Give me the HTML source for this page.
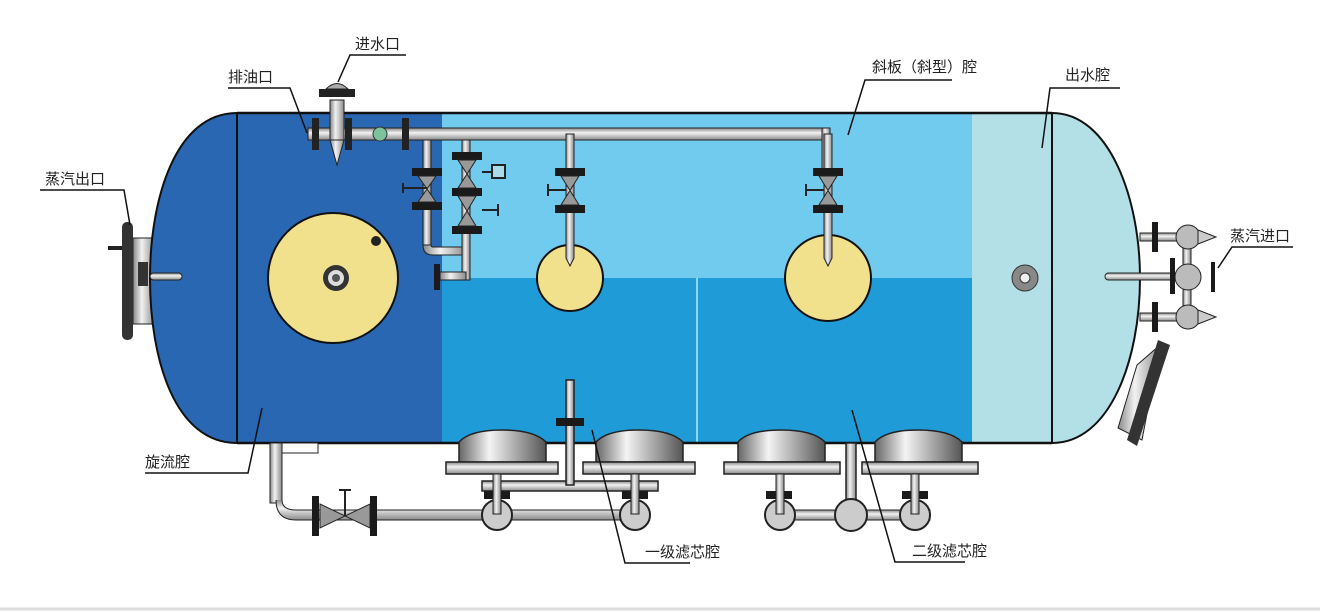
<!DOCTYPE html>
<html><head><meta charset="utf-8"><style>
html,body{margin:0;padding:0;background:#fff;}
svg{display:block;}
text{font-family:"Liberation Sans","Noto Sans CJK SC",sans-serif;font-size:15px;fill:#222;}
</style></head><body>
<svg width="1320" height="612" viewBox="0 0 1320 612" xmlns="http://www.w3.org/2000/svg">
<defs>
<linearGradient id="pg" x1="0" y1="0" x2="0" y2="1"><stop offset="0" stop-color="#888"/><stop offset="0.4" stop-color="#f2f2f2"/><stop offset="1" stop-color="#8a8a8a"/></linearGradient>
<linearGradient id="pv" x1="0" y1="0" x2="1" y2="0"><stop offset="0" stop-color="#888"/><stop offset="0.4" stop-color="#f2f2f2"/><stop offset="1" stop-color="#8a8a8a"/></linearGradient>
<linearGradient id="dome" x1="0" y1="0" x2="1" y2="0"><stop offset="0" stop-color="#666"/><stop offset="0.35" stop-color="#f4f4f4"/><stop offset="1" stop-color="#555"/></linearGradient>
</defs>
<rect width="1320" height="612" fill="#fff"/>
<line x1="0" y1="609" x2="1320" y2="609" stroke="#ddd" stroke-width="3"/>

<rect x="133" y="238" width="22" height="86" fill="url(#pv)" stroke="#222"/>
<rect x="122" y="222" width="11" height="118" rx="5" fill="#333"/>
<rect x="108" y="246" width="14" height="4" fill="#222"/>
<rect x="138" y="262" width="10" height="24" fill="#333"/>

<path d="M237,113 C175,113 150,200 150,278 C150,360 175,443 237,443 Z" fill="#2a67b2" stroke="#111" stroke-width="2"/>
<rect x="237" y="113" width="206" height="330" fill="#2a67b2"/>
<rect x="442" y="113" width="531" height="165" fill="#70cbee"/>
<rect x="442" y="278" width="531" height="165" fill="#1f9bd8"/>
<line x1="697" y1="278" x2="697" y2="443" stroke="#bfe6f6" stroke-width="1.5"/>
<rect x="972" y="113" width="80" height="330" fill="#b2e0e6"/>
<path d="M1052,113 C1110,113 1140,200 1140,278 C1140,360 1110,443 1052,443 Z" fill="#b2e0e6" stroke="#111" stroke-width="2"/>
<line x1="237" y1="113" x2="1052" y2="113" stroke="#111" stroke-width="2.5"/>
<line x1="237" y1="443" x2="1052" y2="443" stroke="#111" stroke-width="2.5"/>
<line x1="237" y1="113" x2="237" y2="443" stroke="#111" stroke-width="2"/>
<line x1="1052" y1="113" x2="1052" y2="443" stroke="#111" stroke-width="2"/>
<rect x="150" y="273" width="32" height="7" rx="3.5" fill="url(#pg)" stroke="#222"/>
<rect x="1105" y="273" width="80" height="7" rx="3.5" fill="url(#pg)" stroke="#222"/>

<circle cx="333" cy="278" r="65" fill="#f1e08c" stroke="#111" stroke-width="2"/>
<circle cx="336" cy="278" r="13" fill="#333"/><circle cx="336" cy="278" r="8" fill="#ddd"/><circle cx="336" cy="278" r="4" fill="#555"/>
<circle cx="376" cy="241" r="5" fill="#222"/>
<circle cx="570" cy="278" r="33" fill="#f1e08c" stroke="#111" stroke-width="2"/>
<circle cx="828" cy="278" r="43" fill="#f1e08c" stroke="#111" stroke-width="2"/>
<circle cx="1025" cy="278" r="13" fill="#888" stroke="#333"/><circle cx="1025" cy="278" r="5" fill="#eee" stroke="#333"/>

<rect x="308" y="128" width="520" height="12" fill="url(#pg)" stroke="#222"/>
<rect x="822" y="128" width="8" height="48" fill="url(#pv)" stroke="#222"/>
<rect x="312" y="118" width="7" height="32" fill="#222"/>
<rect x="345" y="118" width="7" height="32" fill="#222"/>
<rect x="402" y="118" width="7" height="32" fill="#222"/>
<circle cx="380" cy="134" r="7" fill="#7cc29a" stroke="#333"/>
<rect x="330" y="100" width="14" height="40" fill="url(#pv)" stroke="#222"/>
<path d="M330,140 L344,140 L337,165 Z" fill="url(#pv)" stroke="#222"/>
<rect x="319" y="89" width="36" height="8" fill="#222"/>
<path d="M326,89 Q337,78 348,89 Z" fill="#aaa" stroke="#222"/>

<g fill="url(#pv)" stroke="#222">
<rect x="423" y="140" width="8" height="105"/>
<path d="M423,245 Q423,255 433,255 L466,255 L466,247 L433,247 Q431,247 431,245 Z"/>
<rect x="462" y="140" width="8" height="140"/>
<rect x="440" y="272" width="26" height="8"/>
</g>
<g fill="#1a1a1a">
<rect x="412" y="168" width="30" height="8"/><rect x="412" y="202" width="30" height="8"/>
<rect x="452" y="152" width="30" height="8"/><rect x="452" y="188" width="30" height="8"/><rect x="452" y="226" width="30" height="8"/>
<rect x="434" y="264" width="6" height="26"/>
</g>
<g fill="#999" stroke="#222">
<path d="M418,176 L436,176 L418,202 L436,202 Z"/>
<path d="M458,160 L476,160 L458,188 L476,188 Z"/>
<path d="M458,196 L476,196 L458,226 L476,226 Z"/>
</g>
<path d="M403,188 L427,188 M403,183 L403,193 M482,172 L492,172 M482,210 L498,210 M498,204 L498,216" stroke="#222" stroke-width="2" fill="none"/>
<rect x="492" y="165" width="13" height="13" fill="#a9dbe9" stroke="#222" stroke-width="2"/>

<g fill="url(#pv)" stroke="#222">
<path d="M566,134 L574,134 L574,258 L570,266 L566,258 Z"/>
<path d="M824,134 L832,134 L832,258 L828,266 L824,258 Z"/>
</g>
<g fill="#1a1a1a">
<rect x="555" y="168" width="30" height="8"/><rect x="555" y="205" width="30" height="8"/>
<rect x="813" y="168" width="30" height="8"/><rect x="813" y="205" width="30" height="8"/>
</g>
<g fill="#999" stroke="#222">
<path d="M561,176 L579,176 L561,205 L579,205 Z"/>
<path d="M819,176 L837,176 L819,205 L837,205 Z"/>
</g>
<path d="M548,190 L566,190 M548,184 L548,196 M806,190 L824,190 M806,184 L806,196" stroke="#222" stroke-width="2"/>

<g stroke="#222">
<rect x="1140" y="233" width="40" height="8" fill="url(#pg)"/>
<rect x="1140" y="313" width="40" height="8" fill="url(#pg)"/>
<rect x="1183" y="240" width="8" height="75" fill="url(#pv)"/>
<circle cx="1188" cy="237" r="12" fill="#bbb"/><circle cx="1188" cy="277" r="13" fill="#bbb"/><circle cx="1188" cy="317" r="12" fill="#bbb"/>
<path d="M1198,230 L1216,237 L1198,244 Z" fill="#ccc"/><path d="M1198,310 L1216,317 L1198,324 Z" fill="#ccc"/>
</g>
<g fill="#1a1a1a">
<rect x="1152" y="222" width="6" height="30"/><rect x="1152" y="302" width="6" height="30"/>
<rect x="1170" y="258" width="5" height="36"/><rect x="1211" y="262" width="4" height="30"/>
</g>
<path d="M1137,365 L1160,345 L1142,440 L1118,428 Z" fill="url(#pv)" stroke="#222"/>
<path d="M1158,340 L1170,345 L1137,446 L1127,440 Z" fill="#333"/>

<g stroke="#222" fill="url(#pv)">
<rect x="270" y="443" width="12" height="60"/>
<rect x="282" y="443" width="36" height="10" fill="#fff"/>
</g>
<path d="M276,500 Q276,520 296,520 L640,520 L640,510 L296,510 Q282,510 282,500" fill="url(#pg)" stroke="#222"/>
<rect x="312" y="496" width="7" height="40" fill="#1a1a1a"/><rect x="370" y="496" width="7" height="40" fill="#1a1a1a"/>
<path d="M320,504 L370,528 L370,504 L320,528 Z" fill="#999" stroke="#222"/>
<path d="M345,516 L345,490 M339,490 L351,490" stroke="#222" stroke-width="2"/>
<path d="M770,510 L930,510 L930,520 L770,520 Z" fill="url(#pg)" stroke="#222"/>

<g stroke="#222" stroke-width="1.5">
<path d="M459,462 L459,442 Q470,430 502,430 Q534,430 546,442 L546,462 Z" fill="url(#dome)"/>
<path d="M596,462 L596,442 Q607,430 639,430 Q671,430 683,442 L683,462 Z" fill="url(#dome)"/>
<path d="M738,462 L738,442 Q749,430 781,430 Q813,430 825,442 L825,462 Z" fill="url(#dome)"/>
<path d="M875,462 L875,442 Q886,430 918,430 Q950,430 962,442 L962,462 Z" fill="url(#dome)"/>
<rect x="446" y="462" width="112" height="12" fill="url(#pg)"/>
<rect x="583" y="462" width="112" height="12" fill="url(#pg)"/>
<rect x="724" y="462" width="116" height="12" fill="url(#pg)"/>
<rect x="862" y="462" width="116" height="12" fill="url(#pg)"/>
<rect x="482" y="481" width="176" height="10" fill="url(#pg)"/>
<rect x="566" y="380" width="8" height="105" fill="url(#pv)"/>
<rect x="846" y="443" width="10" height="75" fill="url(#pv)"/>
</g>
<rect x="556" y="418" width="28" height="8" fill="#1a1a1a"/>
<g fill="#1a1a1a">
<rect x="484" y="491" width="26" height="8"/><rect x="622" y="491" width="26" height="8"/>
<rect x="766" y="491" width="26" height="8"/><rect x="902" y="491" width="26" height="8"/>
</g>
<g fill="#ccc" stroke="#222" stroke-width="2">
<circle cx="497" cy="515" r="15"/><circle cx="635" cy="515" r="15"/>
<circle cx="780" cy="515" r="15"/><circle cx="851" cy="515" r="16"/><circle cx="915" cy="515" r="15"/>
</g>
<g fill="url(#pv)" stroke="#222">
<rect x="493" y="474" width="8" height="40"/><rect x="631" y="474" width="8" height="40"/>
<rect x="776" y="474" width="8" height="40"/><rect x="911" y="474" width="8" height="40"/>
</g>

<g stroke="#111" stroke-width="1.5" fill="none">
<path d="M338,82 L350,55 L406,55"/>
<path d="M307,133 L290,88 L228,88"/>
<path d="M130,225 L124,190 L40,190"/>
<path d="M848,135 L865,80 L952,80"/>
<path d="M1042,148 L1050,88 L1120,88"/>
<path d="M1218,268 L1232,247 L1293,247"/>
<path d="M262,408 L248,473 L145,473"/>
<path d="M592,430 L625,563 L690,563"/>
<path d="M852,410 L895,562 L965,562"/>
</g>
<text x="355" y="49">进水口</text>
<text x="228" y="82">排油口</text>
<text x="45" y="184">蒸汽出口</text>
<text x="872" y="72">斜板（斜型）腔</text>
<text x="1065" y="80">出水腔</text>
<text x="1230" y="241">蒸汽进口</text>
<text x="145" y="467">旋流腔</text>
<text x="645" y="557">一级滤芯腔</text>
<text x="912" y="556">二级滤芯腔</text>
</svg>
</body></html>
